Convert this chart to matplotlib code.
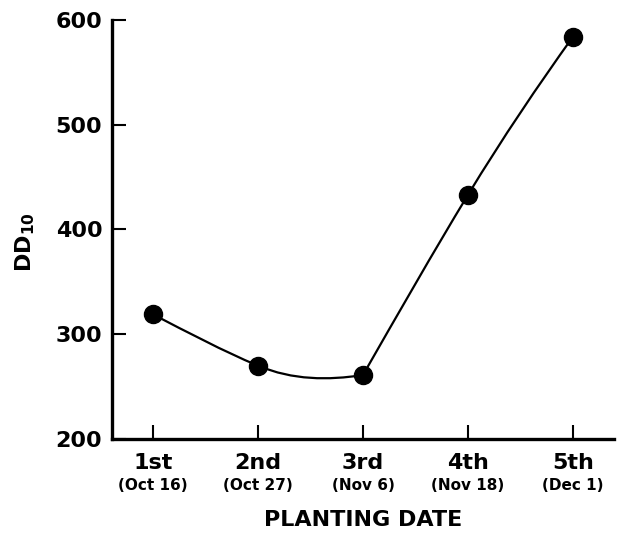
import matplotlib
matplotlib.use("Agg")
import matplotlib.pyplot as plt
from matplotlib.path import Path
from matplotlib.patches import PathPatch

# Degree-days above 10 C by planting date
plantings = ["1st", "2nd", "3rd", "4th", "5th"]
dates = ["(Oct 16)", "(Oct 27)", "(Nov 6)", "(Nov 18)", "(Dec 1)"]
dd10 = [319, 270, 261, 433, 584]

plt.rcParams["font.family"] = "DejaVu Sans"
plt.rcParams["font.weight"] = "bold"
plt.rcParams["mathtext.fontset"] = "dejavusans"

fig = plt.figure(figsize=(6.17, 5.33), dpi=100)
ax = fig.add_axes([0.1815, 0.1764, 0.8135, 0.7861])

x = list(range(1, len(dd10) + 1))

# hand-drawn style curve: smooth through 1st-3rd, kink at 3rd, smooth through 3rd-5th
# slopes (per planting step) leaving / arriving at each point
slopes_in = [None, -42, 15, 165, 140]
slopes_out = [-52, -42, 175, 165, None]

verts = [(x[0], dd10[0])]
codes = [Path.MOVETO]
for i in range(len(x) - 1):
    x0, y0, x1, y1 = x[i], dd10[i], x[i + 1], dd10[i + 1]
    d = (x1 - x0) / 3.0
    verts += [(x0 + d, y0 + slopes_out[i] * d),
              (x1 - d, y1 - slopes_in[i + 1] * d),
              (x1, y1)]
    codes += [Path.CURVE4] * 3
ax.add_patch(PathPatch(Path(verts, codes), facecolor="none",
                       edgecolor="black", linewidth=1.6, zorder=2))

ax.plot(x, dd10, linestyle="none", marker="o", markersize=13,
        color="black", zorder=3, clip_on=False)

ax.set_xlim(0.61, 5.39)
ax.set_ylim(200, 600)
ax.set_yticks([200, 300, 400, 500, 600])
ax.set_xticks(x)
ax.set_xticklabels(plantings, fontsize=16, fontweight="bold")
ax.tick_params(axis="y", labelsize=16, pad=7)
ax.tick_params(axis="x", pad=10)
ax.tick_params(direction="in", length=10, width=1.5, color="black")

for i, d in zip(x, dates):
    ax.annotate(d, xy=(i, 0), xycoords=("data", "axes fraction"),
                xytext=(0, -28), textcoords="offset points",
                ha="center", va="top", fontsize=11, fontweight="bold")

for side in ["top", "right"]:
    ax.spines[side].set_visible(False)
for side in ["left", "bottom"]:
    ax.spines[side].set_linewidth(2.4)

ax.set_xlabel("PLANTING DATE", fontsize=16, fontweight="bold")
ax.xaxis.set_label_coords(0.5, -0.17)
ax.set_ylabel(r"$\mathbf{DD_{10}}$", fontsize=16)
ax.yaxis.set_label_coords(-0.15, 0.47)

fig.savefig("out.png", dpi=100)
